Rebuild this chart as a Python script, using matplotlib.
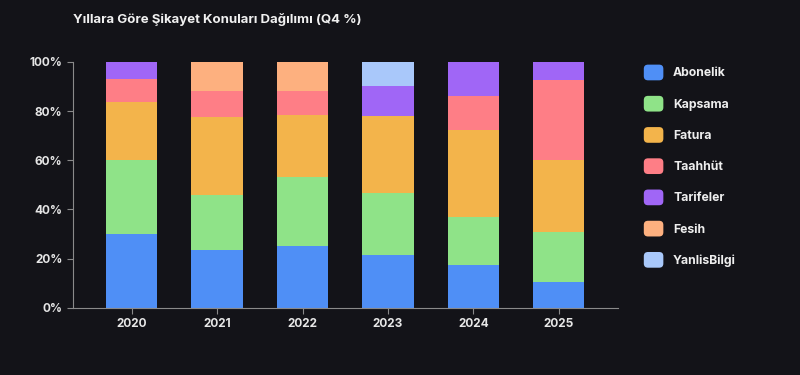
import matplotlib.pyplot as plt
from matplotlib.patches import Patch, FancyBboxPatch
from matplotlib.legend_handler import HandlerPatch
from matplotlib.ticker import FuncFormatter
import numpy as np

plt.rcParams['font.family'] = ['Inter', 'DejaVu Sans']

years = ['2020', '2021', '2022', '2023', '2024', '2025']
categories = ['Abonelik', 'Kapsama', 'Fatura', 'Taahhüt', 'Tarifeler', 'Fesih', 'YanlisBilgi']
abonelik = [30, 23.5, 25, 21.5, 17.5, 10.5]
kapsama = [30, 22.5, 28, 25, 19.5, 20.5]
fatura = [23.5, 31.5, 25.5, 31.5, 35.5, 29]
taahhut = [9.5, 10.5, 9.5, 0, 13.5, 32.5]
tarifeler = [7, 0, 0, 12, 14, 7.5]
fesih = [0, 12, 12, 0, 0, 0]
yanlis = [0, 0, 0, 10, 0, 0]
colors = ['#4f8ff6', '#8fe388', '#f3b44b', '#fe7e86', '#a066f6', '#fdb07f', '#a9c8fa']

bg = '#131318'


class RoundBox(HandlerPatch):
    def create_artists(self, legend, orig, xd, yd, w, h, fs, trans):
        p = FancyBboxPatch((-xd, -yd), w, h, boxstyle='round,pad=0,rounding_size=3',
                           facecolor=orig.get_facecolor(), edgecolor='none', transform=trans)
        return [p]


fig = plt.figure(figsize=(8, 3.75), dpi=100, facecolor=bg)
ax = fig.add_axes([0.091, 0.179, 0.681, 0.656], facecolor=bg)

x = np.arange(len(years))
bottom = np.zeros(len(years))
for name, vals, c in zip(categories, [abonelik, kapsama, fatura, taahhut, tarifeler, fesih, yanlis], colors):
    ax.bar(x, vals, 0.6, bottom=bottom, color=c, label=name)
    bottom += np.array(vals)

ax.set_xlim(-0.69, 5.69)
ax.set_ylim(0, 100)
ax.set_xticks(x)
ax.set_xticklabels(years)
ax.set_yticks([0, 20, 40, 60, 80, 100])
ax.yaxis.set_major_formatter(FuncFormatter(lambda v, p: f'{int(v)}%'))
for s in ['top', 'right']:
    ax.spines[s].set_visible(False)
for s in ['left', 'bottom']:
    ax.spines[s].set_color('#8a8a8a')
ax.tick_params(colors='#8a8a8a', labelcolor='#e6e6e6', length=4)
for lab in ax.get_xticklabels() + ax.get_yticklabels():
    lab.set_fontweight('bold')
    lab.set_fontsize(8.5)

fig.text(0.091, 0.948, 'Yıllara Göre Şikayet Konuları Dağılımı (Q4 %)', color='#f0f0f0',
         fontsize=9.5, fontweight='bold', va='center')

handles = [Patch(facecolor=c, edgecolor=c) for c in colors]
leg = fig.legend(handles, categories, loc='upper left', bbox_to_anchor=(0.791, 0.857),
                 frameon=False, handlelength=1.6, handleheight=1.6, labelspacing=1.27,
                 handletextpad=0.8, fontsize=8.8, handler_map={Patch: RoundBox()})
for t in leg.get_texts():
    t.set_color('#eeeeee')
    t.set_fontweight('bold')

fig.savefig('out.png', dpi=100, facecolor=bg)
